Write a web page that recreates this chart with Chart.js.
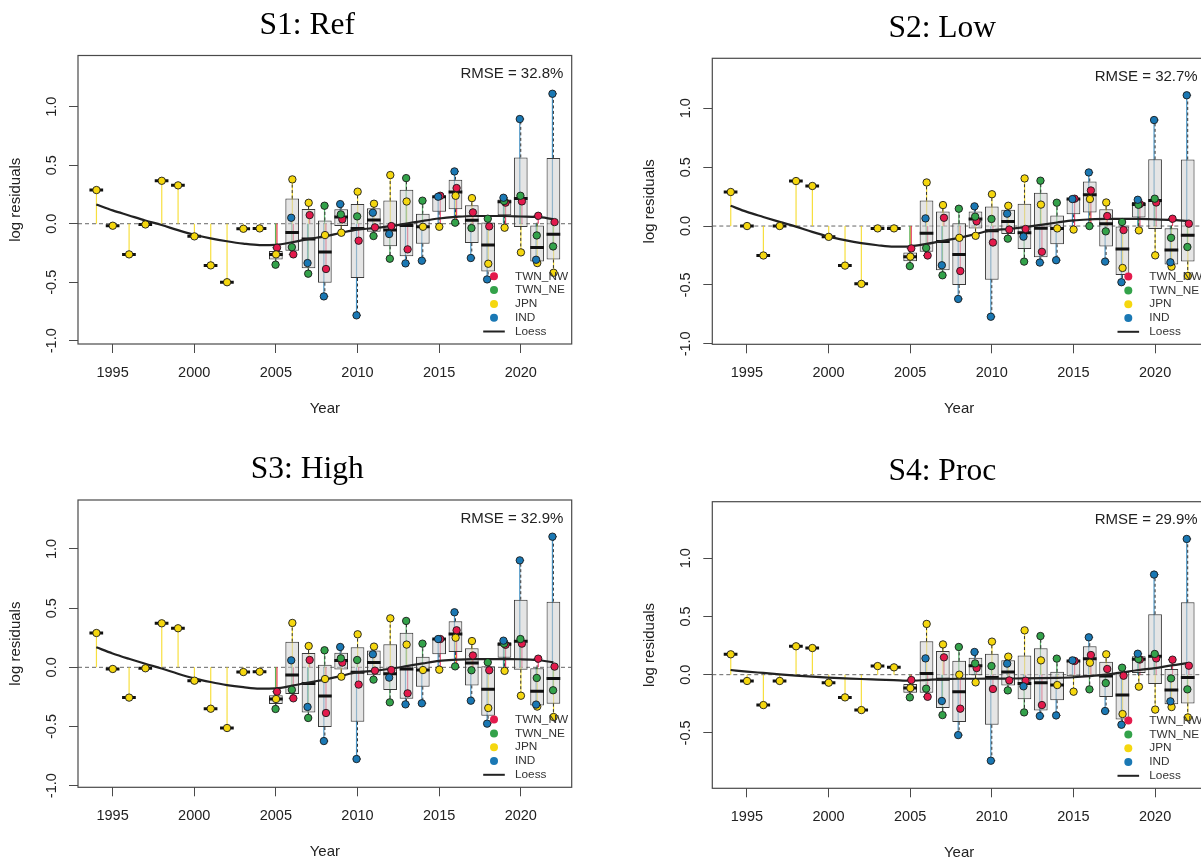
<!DOCTYPE html>
<html><head><meta charset="utf-8">
<script src="https://cdn.jsdelivr.net/npm/chart.js@4.4.1/dist/chart.umd.min.js"></script>
<style>
html,body{margin:0;padding:0;background:#fff;width:1201px;height:863px;overflow:hidden;position:relative;}
canvas{position:absolute;}
.ttl{position:absolute;font-family:"Liberation Serif","Times New Roman",serif;font-size:31.5px;line-height:31.5px;color:#000;white-space:nowrap;transform:translateX(-50%);}
</style></head><body>
<script>
// ---------------- DATA ----------------
const _ = null;
const years = [1994,1995,1996,1997,1998,1999,2000,2001,2002,2003,2004,2005,2006,2007,2008,2009,2010,2011,2012,2013,2014,2015,2016,2017,2018,2019,2020,2021,2022];
const fleets = ['TWN_NW','TWN_NE','JPN','IND'];
const xTicks = [1995,2000,2005,2010,2015,2020];
const yTicksFull = [-1,-0.5,0,0.5,1];
const yTickLabelsFull = ['-1.0','-0.5','0.0','0.5','1.0'];
const yTicksProc = [-0.5,0,0.5,1];
const yTickLabelsProc = ['-0.5','0.0','0.5','1.0'];
const panelTitles = ['S1: Ref','S2: Low','S3: High','S4: Proc'];
const rmseLabels = ['RMSE = 32.8%','RMSE = 32.7%','RMSE = 32.9%','RMSE = 29.9%'];

// S1: Ref
const s1_TWN_NW = [_,_,_,_,_,_,_,_,_,_,_,-0.205,-0.262,0.074,-0.387,0.037,-0.145,-0.031,-0.020,-0.219,_,0.239,0.305,0.097,-0.023,0.180,0.191,0.068,0.014];
const s1_TWN_NE = [_,_,_,_,_,_,_,_,_,_,_,-0.350,-0.200,-0.427,0.154,0.080,0.063,-0.105,-0.299,0.390,0.197,_,0.009,-0.037,0.043,0.194,0.239,-0.100,-0.194];
const s1_JPN    = [0.288,-0.017,-0.262,-0.006,0.367,0.328,-0.108,-0.356,-0.500,-0.043,-0.040,-0.262,0.379,0.179,-0.097,-0.077,0.274,0.171,0.416,0.190,-0.026,-0.026,0.239,0.219,-0.342,-0.034,-0.245,-0.336,-0.419];
const s1_IND    = [_,_,_,_,_,_,_,_,_,_,_,_,0.051,-0.336,-0.621,0.168,-0.783,0.094,-0.088,-0.339,-0.316,0.231,0.447,-0.293,-0.476,0.222,0.895,-0.308,1.111];
const s1_loess  = [0.165,0.114,0.071,0.028,-0.011,-0.055,-0.094,-0.125,-0.150,-0.170,-0.182,-0.180,-0.158,-0.130,-0.108,-0.077,-0.050,-0.038,-0.020,0.002,0.025,0.045,0.058,0.066,0.066,0.066,0.062,0.058,0.040];

// S2: Low
const s2_TWN_NW = [_,_,_,_,_,_,_,_,_,_,_,-0.190,-0.250,0.070,-0.382,0.040,-0.140,-0.030,-0.025,-0.219,_,0.232,0.302,0.085,-0.034,0.187,0.200,0.062,0.020];
const s2_TWN_NE = [_,_,_,_,_,_,_,_,_,_,_,-0.340,-0.186,-0.418,0.147,0.080,0.060,-0.107,-0.302,0.385,0.198,_,0.000,-0.045,0.034,0.180,0.232,-0.100,-0.178];
const s2_JPN    = [0.289,0.000,-0.250,0.000,0.382,0.340,-0.092,-0.336,-0.491,-0.020,-0.020,-0.260,0.370,0.178,-0.100,-0.083,0.270,0.172,0.404,0.182,-0.020,-0.030,0.229,0.200,-0.356,-0.037,-0.249,-0.345,-0.424];
const s2_IND    = [_,_,_,_,_,_,_,_,_,_,_,_,0.065,-0.333,-0.619,0.167,-0.770,0.105,-0.090,-0.310,-0.290,0.229,0.455,-0.302,-0.477,0.223,0.900,-0.308,1.110];
const s2_loess  = [0.172,0.120,0.077,0.035,-0.005,-0.050,-0.090,-0.120,-0.145,-0.163,-0.175,-0.172,-0.152,-0.125,-0.100,-0.068,-0.036,-0.025,-0.010,0.010,0.030,0.048,0.056,0.060,0.060,0.060,0.057,0.052,0.043];

// S3: High
const s3_TWN_NW = [_,_,_,_,_,_,_,_,_,_,_,-0.206,-0.262,0.062,-0.386,0.040,-0.146,-0.028,-0.023,-0.220,_,0.239,0.313,0.100,-0.025,0.190,0.200,0.073,0.006];
const s3_TWN_NE = [_,_,_,_,_,_,_,_,_,_,_,-0.352,-0.190,-0.428,0.144,0.076,0.062,-0.104,-0.296,0.392,0.200,_,0.008,-0.025,0.042,0.200,0.239,-0.090,-0.194];
const s3_JPN    = [0.290,-0.014,-0.256,-0.008,0.372,0.330,-0.113,-0.350,-0.513,-0.040,-0.037,-0.268,0.375,0.180,-0.099,-0.079,0.279,0.175,0.414,0.192,-0.023,-0.020,0.250,0.222,-0.344,-0.030,-0.240,-0.332,-0.420];
const s3_IND    = [_,_,_,_,_,_,_,_,_,_,_,_,0.059,-0.335,-0.623,0.172,-0.775,0.110,-0.087,-0.313,-0.304,0.239,0.465,-0.282,-0.476,0.225,0.904,-0.315,1.104];
const s3_loess  = [0.169,0.117,0.072,0.030,-0.010,-0.054,-0.093,-0.124,-0.150,-0.168,-0.180,-0.178,-0.155,-0.128,-0.104,-0.072,-0.042,-0.030,-0.012,0.010,0.033,0.054,0.064,0.070,0.070,0.069,0.068,0.062,0.042];

// S4: Proc
const s4_TWN_NW = [_,_,_,_,_,_,_,_,_,_,_,-0.046,-0.190,0.149,-0.292,0.057,-0.123,-0.049,-0.052,-0.261,_,0.118,0.169,0.049,-0.009,0.130,0.140,0.129,0.077];
const s4_TWN_NE = [_,_,_,_,_,_,_,_,_,_,_,-0.195,-0.120,-0.347,0.238,0.097,0.074,-0.135,-0.324,0.332,0.138,_,-0.126,-0.072,0.060,0.135,0.178,-0.032,-0.126];
const s4_JPN    = [0.175,-0.054,-0.261,-0.054,0.244,0.229,-0.069,-0.195,-0.304,0.074,0.063,-0.115,0.436,0.260,0.000,-0.066,0.284,0.155,0.381,0.123,-0.089,-0.146,0.103,0.175,-0.338,-0.103,-0.300,-0.278,-0.367];
const s4_IND    = [_,_,_,_,_,_,_,_,_,_,_,_,0.140,-0.226,-0.519,0.195,-0.739,0.095,-0.100,-0.355,-0.350,0.123,0.321,-0.312,-0.430,0.180,0.860,-0.229,1.166];
const s4_loess  = [0.040,0.027,0.015,0.003,-0.008,-0.017,-0.025,-0.031,-0.037,-0.042,-0.047,-0.052,-0.045,-0.038,-0.035,-0.035,-0.034,-0.033,-0.032,-0.030,-0.027,-0.022,-0.013,0.000,0.020,0.040,0.057,0.080,0.100];

// ---------------- STYLE / LAYOUT ----------------
const fleetColors = ['#e31a4c','#33a24a','#f5d70f','#1a78b4'];
const fleetOffsets = [0.07,-0.02,0.01,-0.06];
const boxWidthYears = 0.84;
const sansFamily = '"Liberation Sans", Arial, Helvetica, sans-serif';
const geom = [
  {x0:78,    x1:571.7, y0:55.5,  y1:344,   ymin:-1.028, ymax:1.438},
  {x0:712.3, x1:1206,  y0:58.3,  y1:344.3, ymin:-1.004, ymax:1.424},
  {x0:78,    x1:571.7, y0:500,   y1:787.3, ymin:-1.014, ymax:1.414},
  {x0:712.3, x1:1206,  y0:501.7, y1:788.3, ymin:-0.976, ymax:1.486}
];
const panels = [
  {series:[s1_TWN_NW,s1_TWN_NE,s1_JPN,s1_IND], loess:s1_loess, yT:yTicksFull, yL:yTickLabelsFull},
  {series:[s2_TWN_NW,s2_TWN_NE,s2_JPN,s2_IND], loess:s2_loess, yT:yTicksFull, yL:yTickLabelsFull},
  {series:[s3_TWN_NW,s3_TWN_NE,s3_JPN,s3_IND], loess:s3_loess, yT:yTicksFull, yL:yTickLabelsFull},
  {series:[s4_TWN_NW,s4_TWN_NE,s4_JPN,s4_IND], loess:s4_loess, yT:yTicksProc, yL:yTickLabelsProc}
];

function rgba(hex,a){const n=parseInt(hex.slice(1),16);return `rgba(${n>>16&255},${n>>8&255},${n&255},${a})`;}
function fivenum(arr){
  const x=[...arr].sort((a,b)=>a-b), n=x.length;
  const n4=Math.floor((n+3)/2)/2;
  const d=[1,n4,(n+1)/2,n+1-n4,n];
  return d.map(v=>0.5*(x[Math.floor(v)-1]+x[Math.ceil(v)-1]));
}
function boxStats(vals){
  const f=fivenum(vals), q1=f[1], med=f[2], q3=f[3], iqr=q3-q1;
  const lo=Math.min(...vals.filter(v=>v>=q1-1.5*iqr));
  const hi=Math.max(...vals.filter(v=>v<=q3+1.5*iqr));
  return {q1,med,q3,lo,hi};
}

const xExt = 0.04*(years[years.length-1]-years[0]);
const xMin = years[0]-xExt, xMax = years[years.length-1]+xExt;

function makeDecor(k){
  const p=panels[k];
  return {
    id:'decor'+k,
    afterDraw(chart){
      const ctx=chart.ctx, a=chart.chartArea, ys=chart.scales.y;
      ctx.save();
      ctx.strokeStyle='#4a4a4a'; ctx.lineWidth=1.2;
      ctx.strokeRect(a.left,a.top,a.right-a.left,a.bottom-a.top);
      ctx.fillStyle='#222';
      ctx.font='14.5px '+sansFamily; ctx.textAlign='center'; ctx.textBaseline='middle';
      p.yT.forEach((v,i)=>{const py=ys.getPixelForValue(v);ctx.save();ctx.translate(a.left-26,py);ctx.rotate(-Math.PI/2);ctx.fillText(p.yL[i],0,0);ctx.restore();});
      ctx.font='15px '+sansFamily; ctx.textAlign='right';
      ctx.fillText(rmseLabels[k],a.right-8.3,a.top+18.5);
      // legend
      const step=13.8, symX=a.right-77.7, txtX=a.right-56.7;
      ctx.font='11.8px '+sansFamily; ctx.textAlign='left'; ctx.fillStyle='#333';
      fleets.forEach((f,i)=>{
        const yy=a.bottom-12.5-(4-i)*step;
        ctx.beginPath();ctx.arc(symX,yy,4,0,Math.PI*2);ctx.fillStyle=fleetColors[i];ctx.fill();
        ctx.fillStyle='#333';ctx.fillText(f,txtX,yy);
      });
      const ly=a.bottom-12.5;
      ctx.strokeStyle='#222';ctx.lineWidth=2;ctx.beginPath();ctx.moveTo(symX-10.8,ly);ctx.lineTo(symX+10.8,ly);ctx.stroke();
      ctx.fillText('Loess',txtX,ly);
      ctx.restore();
    }
  };
}

panels.forEach((p,k)=>{
  const g=geom[k];
  const L=Math.round(g.x0-78), T=Math.round(g.y0-60);
  const W=660, H=Math.round(g.y1-g.y0)+140;
  const cv=document.createElement('canvas');
  cv.width=W; cv.height=H; cv.style.left=L+'px'; cv.style.top=T+'px'; cv.style.width=W+'px'; cv.style.height=H+'px';
  document.body.appendChild(cv);
  const t=document.createElement('div'); t.className='ttl'; t.textContent=panelTitles[k];
  t.style.left=(k%2 ? 942.3 : 307.3)+'px';
  t.style.top=(g.y0-47.6)+'px';
  document.body.appendChild(t);

  const axW=g.x0-L, padTop=g.y0-T, padRight=W-(g.x1-L), axH=H-(g.y1-T);
  const hw=boxWidthYears/2;
  const datasets=[];
  datasets.push({type:'line',data:[{x:xMin,y:0},{x:xMax,y:0}],borderColor:'#666',borderWidth:1,borderDash:[4,3],pointRadius:0,order:7});
  p.series.forEach((s,fi)=>{
    const d=[];
    s.forEach((v,i)=>{ if(v==null) return; const x=years[i]+fleetOffsets[fi]; d.push({x,y:0},{x,y:v},{x,y:null}); });
    datasets.push({type:'line',data:d,borderColor:rgba(fleetColors[fi],0.8),borderWidth:1.2,pointRadius:0,spanGaps:false,tension:0,order:6});
  });
  const boxData=[],medData=[],whData=[],stData=[];
  years.forEach((yr,i)=>{
    const vals=p.series.map(s=>s[i]).filter(v=>v!=null);
    if(!vals.length) return;
    const b=boxStats(vals);
    boxData.push({x:yr,y:[b.q1,b.q3]});
    medData.push({x:yr-hw,y:b.med},{x:yr+hw,y:b.med},{x:yr+hw,y:null});
    whData.push({x:yr,y:b.q3},{x:yr,y:b.hi},{x:yr,y:null},{x:yr,y:b.q1},{x:yr,y:b.lo},{x:yr,y:null});
    stData.push({x:yr-hw/2,y:b.hi},{x:yr+hw/2,y:b.hi},{x:yr+hw/2,y:null},{x:yr-hw/2,y:b.lo},{x:yr+hw/2,y:b.lo},{x:yr+hw/2,y:null});
  });
  datasets.push({type:'bar',data:boxData,backgroundColor:'rgba(208,208,208,0.55)',borderColor:'#3a3a3a',borderWidth:1,borderSkipped:false,categoryPercentage:boxWidthYears,barPercentage:1,order:5});
  datasets.push({type:'line',data:whData,borderColor:'#333',borderWidth:1,borderDash:[3,2.5],pointRadius:0,spanGaps:false,tension:0,order:4});
  datasets.push({type:'line',data:stData,borderColor:'#333',borderWidth:1,pointRadius:0,spanGaps:false,tension:0,order:4});
  datasets.push({type:'line',data:medData,borderColor:'#111',borderWidth:3,borderCapStyle:'butt',pointRadius:0,spanGaps:false,tension:0,order:3});
  datasets.push({type:'line',data:years.map((yr,i)=>({x:yr,y:p.loess[i]})),borderColor:'#222',borderWidth:2.2,pointRadius:0,cubicInterpolationMode:'monotone',order:2});
  p.series.forEach((s,fi)=>{
    const d=[]; s.forEach((v,i)=>{ if(v!=null) d.push({x:years[i]+fleetOffsets[fi],y:v}); });
    datasets.push({type:'scatter',data:d,backgroundColor:fleetColors[fi],borderColor:'#1a1a1a',borderWidth:0.9,pointRadius:3.7,order:1-0.1*fi});
  });

  const tickGrid={display:true,offset:false,drawOnChartArea:false,drawTicks:true,tickLength:9,tickColor:'#4a4a4a',tickWidth:1};
  new Chart(cv,{
    type:'line',
    data:{datasets},
    options:{
      responsive:false,animation:false,devicePixelRatio:1,events:[],
      layout:{padding:{left:0,top:padTop,right:padRight,bottom:0}},
      plugins:{legend:{display:false},tooltip:{enabled:false}},
      scales:{
        x:{type:'linear',min:xMin,max:xMax,offset:false,
           afterFit:s=>{s.height=axH;},
           afterBuildTicks:s=>{s.ticks=xTicks.map(v=>({value:v}));},
           ticks:{callback:v=>String(v),font:{family:sansFamily,size:14.5},color:'#222',padding:11,maxRotation:0,minRotation:0,autoSkip:false},
           grid:tickGrid,border:{display:false},
           title:{display:true,text:'Year',font:{family:sansFamily,size:15},color:'#222',padding:{top:0,bottom:H-9-(g.y1+64.5-T)}}},
        y:{type:'linear',min:g.ymin,max:g.ymax,
           afterFit:s=>{s.width=axW;},
           afterBuildTicks:s=>{s.ticks=p.yT.map(v=>({value:v}));},
           ticks:{display:false},
           grid:tickGrid,border:{display:false},
           title:{display:true,text:'log residuals',font:{family:sansFamily,size:15},color:'#222',padding:{top:(g.x0-62-L)-9,bottom:0}}}
      }
    },
    plugins:[makeDecor(k)]
  });
});
</script>
</body></html>
